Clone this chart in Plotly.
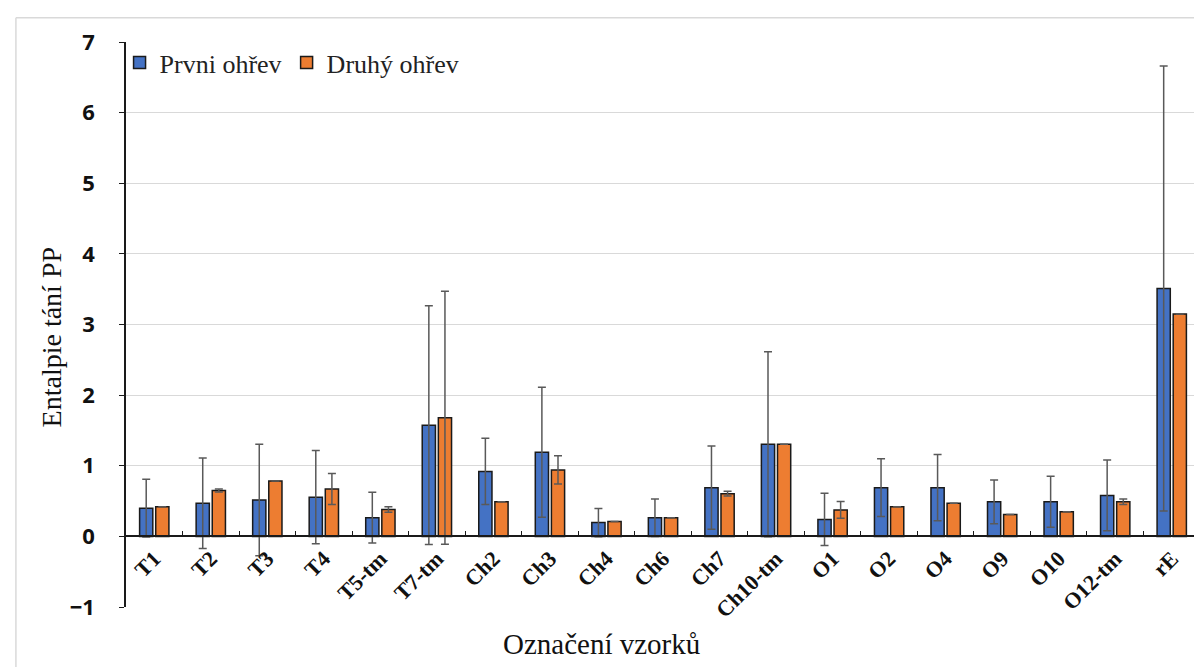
import plotly.graph_objects as go

categories = ["T1", "T2", "T3", "T4", "T5-tm", "T7-tm", "Ch2", "Ch3", "Ch4", "Ch6", "Ch7",
              "Ch10-tm", "O1", "O2", "O4", "O9", "O10", "O12-tm", "rE"]
prvni = [0.40, 0.47, 0.515, 0.555, 0.265, 1.575, 0.92, 1.19, 0.195, 0.265, 0.69,
         1.305, 0.24, 0.69, 0.69, 0.49, 0.49, 0.58, 3.51]
prvni_err = [0.41, 0.64, 0.79, 0.66, 0.36, 1.69, 0.47, 0.92, 0.20, 0.265, 0.59,
             1.31, 0.37, 0.41, 0.47, 0.31, 0.36, 0.50, 3.15]
druhy = [0.42, 0.65, 0.785, 0.67, 0.38, 1.68, 0.49, 0.94, 0.21, 0.265, 0.605,
         1.305, 0.375, 0.42, 0.47, 0.31, 0.35, 0.49, 3.15]
druhy_err = [0.0, 0.02, 0.0, 0.22, 0.04, 1.79, 0.0, 0.20, 0.0, 0.0, 0.035,
             0.0, 0.12, 0.0, 0.0, 0.0, 0.0, 0.04, 0.0]

serif = "Liberation Serif, Times New Roman, serif"
sans = "Open Sans, Liberation Sans, sans-serif"

fig = go.Figure()
fig.add_trace(go.Bar(
    x=categories, y=prvni, name="Prvni ohřev",
    marker=dict(color="#4472C4", line=dict(color="#1a1a1a", width=1.5)),
    error_y=dict(type="data", array=prvni_err, visible=True, color="#595959", thickness=1.5, width=4),
))
fig.add_trace(go.Bar(
    x=categories, y=druhy, name="Druhý ohřev",
    marker=dict(color="#ED7D31", line=dict(color="#1a1a1a", width=1.5)),
    error_y=dict(type="data", array=druhy_err, visible=True, color="#595959", thickness=1.5, width=4),
))

fig.update_layout(
    width=1202, height=667,
    margin=dict(l=118, r=10, t=34, b=68),
    paper_bgcolor="white", plot_bgcolor="white",
    barmode="group", bargap=0.43, bargroupgap=0.18,
    showlegend=True,
    legend=dict(orientation="h", x=-0.006, y=1.005, xanchor="left", yanchor="top",
                font=dict(family=serif, size=26, color="#222"), bgcolor="rgba(0,0,0,0)",
                itemwidth=30, traceorder="normal", tracegroupgap=0),
    xaxis=dict(
        type="category", anchor="free", position=0.125,
        showline=True, linecolor="#1a1a1a", linewidth=1.5,
        ticks="inside", tickson="boundaries", ticklen=5, tickcolor="#1a1a1a",
        tickangle=-45, showgrid=False, automargin=False,
        tickfont=dict(family=serif, size=22, color="#111", weight="bold"),
    ),
    yaxis=dict(
        range=[-1, 7], dtick=1, showline=True, linecolor="#1a1a1a", linewidth=1.5,
        ticks="outside", ticklen=5, tickcolor="#1a1a1a",
        showgrid=True, gridcolor="#d9d9d9", gridwidth=1, zeroline=False,
        tickfont=dict(family=sans, size=22, color="#111", weight="bold"),
        ticklabelstandoff=20, automargin=False,
    ),
    annotations=[
        dict(text="Entalpie tání PP", xref="paper", yref="paper", x=-0.069, y=0.477,
             textangle=-90, showarrow=False, xanchor="center", yanchor="middle",
             font=dict(family=serif, size=28, color="#111")),
        dict(text="Označení vzorků", xref="paper", yref="paper", x=0.443, y=-0.066,
             showarrow=False, xanchor="center", yanchor="middle",
             font=dict(family=serif, size=29, color="#111")),
    ],
    shapes=[
        dict(type="line", xref="paper", yref="paper", x0=-0.1025, x1=-0.1025, y0=1.043, y1=-0.12,
             line=dict(color="#d9d9d9", width=1.5)),
        dict(type="line", xref="paper", yref="paper", x0=-0.1025, x1=1.01, y0=1.043, y1=1.043,
             line=dict(color="#d9d9d9", width=1.5)),
    ],
)

fig.write_html("out.html")
